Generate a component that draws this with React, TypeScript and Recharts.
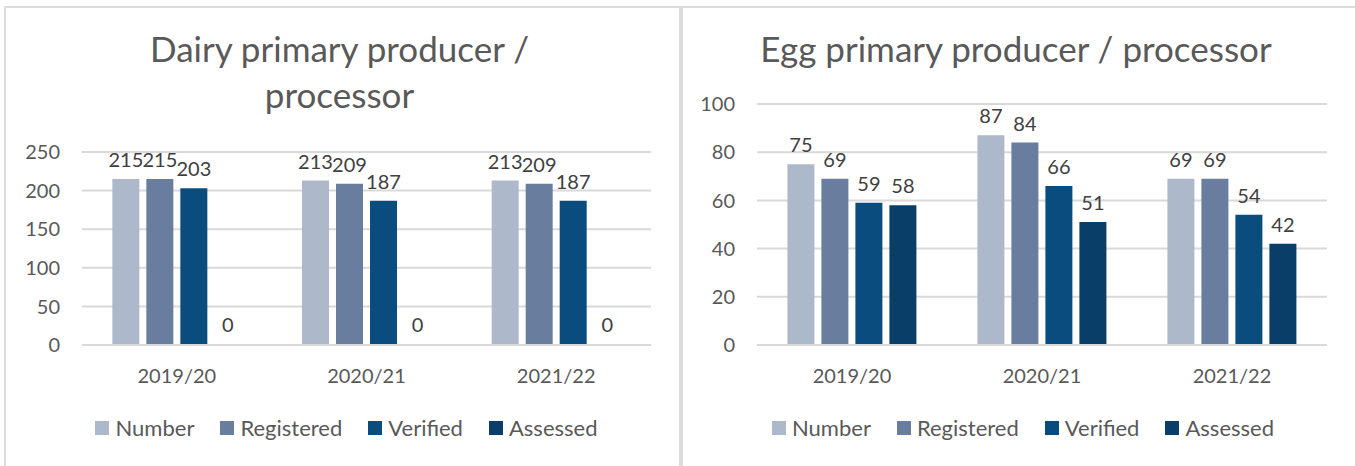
import React from 'react'
import { BarChart, Bar, XAxis, YAxis, CartesianGrid, LabelList, Rectangle } from 'recharts'

const years = ['2019/20', '2020/21', '2021/22']

const dairyNumber = [215, 213, 213]
const dairyRegistered = [215, 209, 209]
const dairyVerified = [203, 187, 187]
const dairyAssessed = [0, 0, 0]

const eggNumber = [75, 87, 69]
const eggRegistered = [69, 84, 69]
const eggVerified = [59, 66, 54]
const eggAssessed = [58, 51, 42]

const dairyTicks = [0, 50, 100, 150, 200, 250]
const eggTicks = [0, 20, 40, 60, 80, 100]

const seriesNames = ['Number', 'Registered', 'Verified', 'Assessed']
const seriesColors = ['#adb9ca', '#697e9e', '#0b4c7e', '#083e68']

const FONT = 'Lato, "Open Sans", sans-serif'
const GRID = '#d9d9d9'

const makeRows = (vals: number[][]) =>
  years.map((y, i) => ({
    year: y,
    Number: vals[0][i],
    Registered: vals[1][i],
    Verified: vals[2][i],
    Assessed: vals[3][i],
  }))

const dairyData = makeRows([dairyNumber, dairyRegistered, dairyVerified, dairyAssessed])
const eggData = makeRows([eggNumber, eggRegistered, eggVerified, eggAssessed])

type PanelProps = {
  left: number
  width: number
  plotLeft: number
  plotTop: number
  data: any[]
  ticks: number[]
  title: string[]
}

const Legendish = ({ left, width }: { left: number; width: number }) => (
  <div
    style={{
      position: 'absolute',
      left: left + 7,
      width,
      top: 414,
      display: 'flex',
      justifyContent: 'center',
      fontFamily: FONT,
      fontSize: 22,
      color: '#595959',
    }}
  >
    {seriesNames.map((n, i) => (
      <div key={n} style={{ display: 'flex', alignItems: 'center', marginRight: i < 3 ? 26 : 0 }}>
        <span style={{ width: 14, height: 14, background: seriesColors[i], marginRight: 6, display: 'inline-block' }} />
        <span>{n}</span>
      </div>
    ))}
  </div>
)

const ValueLabel = (props: any) => {
  const { x, y, width, value } = props
  return (
    <text
      x={x + width / 2}
      y={y - 12}
      textAnchor="middle"
      fill="#404040"
      fontSize={20}
      fontFamily={FONT}
    >
      {String(value)}
    </text>
  )
}

// zero values keep a 1px stub so the label is placed, but the stub isn't painted
const BarShape = (props: any) => {
  if (props.height <= 1) return <g />
  return <Rectangle {...props} />
}

const Panel = ({ left, width, plotLeft, plotTop, data, ticks, title }: PanelProps) => {
  const H = 466
  return (
    <>
      <div
        style={{
          position: 'absolute',
          left: left + 4,
          top: 6,
          width: width - 6,
          height: 480,
          borderLeft: '2px solid #dcdcdc',
          borderTop: '2px solid #dcdcdc',
          borderRight: '2px solid #dcdcdc',
        }}
      />
      <div
        style={{
          position: 'absolute',
          left,
          width,
          top: 25,
          textAlign: 'center',
          fontFamily: FONT,
          fontSize: 35,
          lineHeight: '46px',
          color: '#595959',
        }}
      >
        {title.map((t) => (
          <div key={t}>{t}</div>
        ))}
      </div>
      <div style={{ position: 'absolute', left, top: 0 }}>
        <BarChart
          width={width}
          height={H}
          data={data}
          barCategoryGap="16%"
          barGap={7}
          margin={{ top: plotTop, right: 28, left: 0, bottom: H - 345 - 30 }}
        >
          <CartesianGrid vertical={false} stroke={GRID} strokeWidth={2} />
          <XAxis
            dataKey="year"
            axisLine={{ stroke: GRID, strokeWidth: 2 }}
            tickLine={false}
            tickSize={0}
            tickMargin={24}
            tick={{ fill: '#595959', fontSize: 20, fontFamily: FONT }}
          />
          <YAxis
            width={plotLeft - left}
            domain={[0, ticks[ticks.length - 1]]}
            ticks={ticks}
            axisLine={false}
            tickLine={false}
            tickSize={0}
            tickMargin={22}
            tick={{ fill: '#595959', fontSize: 20, fontFamily: FONT }}
          />
          {seriesNames.map((n, i) => (
            <Bar
              key={n}
              dataKey={n}
              fill={seriesColors[i]}
              minPointSize={1}
              shape={BarShape}
              isAnimationActive={false}
            >
              <LabelList dataKey={n} content={ValueLabel} />
            </Bar>
          ))}
        </BarChart>
      </div>
      <Legendish left={left} width={width} />
    </>
  )
}

export default function App() {
  return (
    <div
      style={{
        position: 'absolute',
        left: 0,
        top: 0,
        width: 1355,
        height: 466,
        overflow: 'hidden',
        background: '#fff',
      }}
    >
      <Panel
        left={0}
        width={679}
        plotLeft={82}
        plotTop={152}
        data={dairyData}
        ticks={dairyTicks}
        title={['Dairy primary producer /', 'processor']}
      />
      <Panel
        left={677}
        width={678}
        plotLeft={757}
        plotTop={104}
        data={eggData}
        ticks={eggTicks}
        title={['Egg primary producer / processor']}
      />
    </div>
  )
}
